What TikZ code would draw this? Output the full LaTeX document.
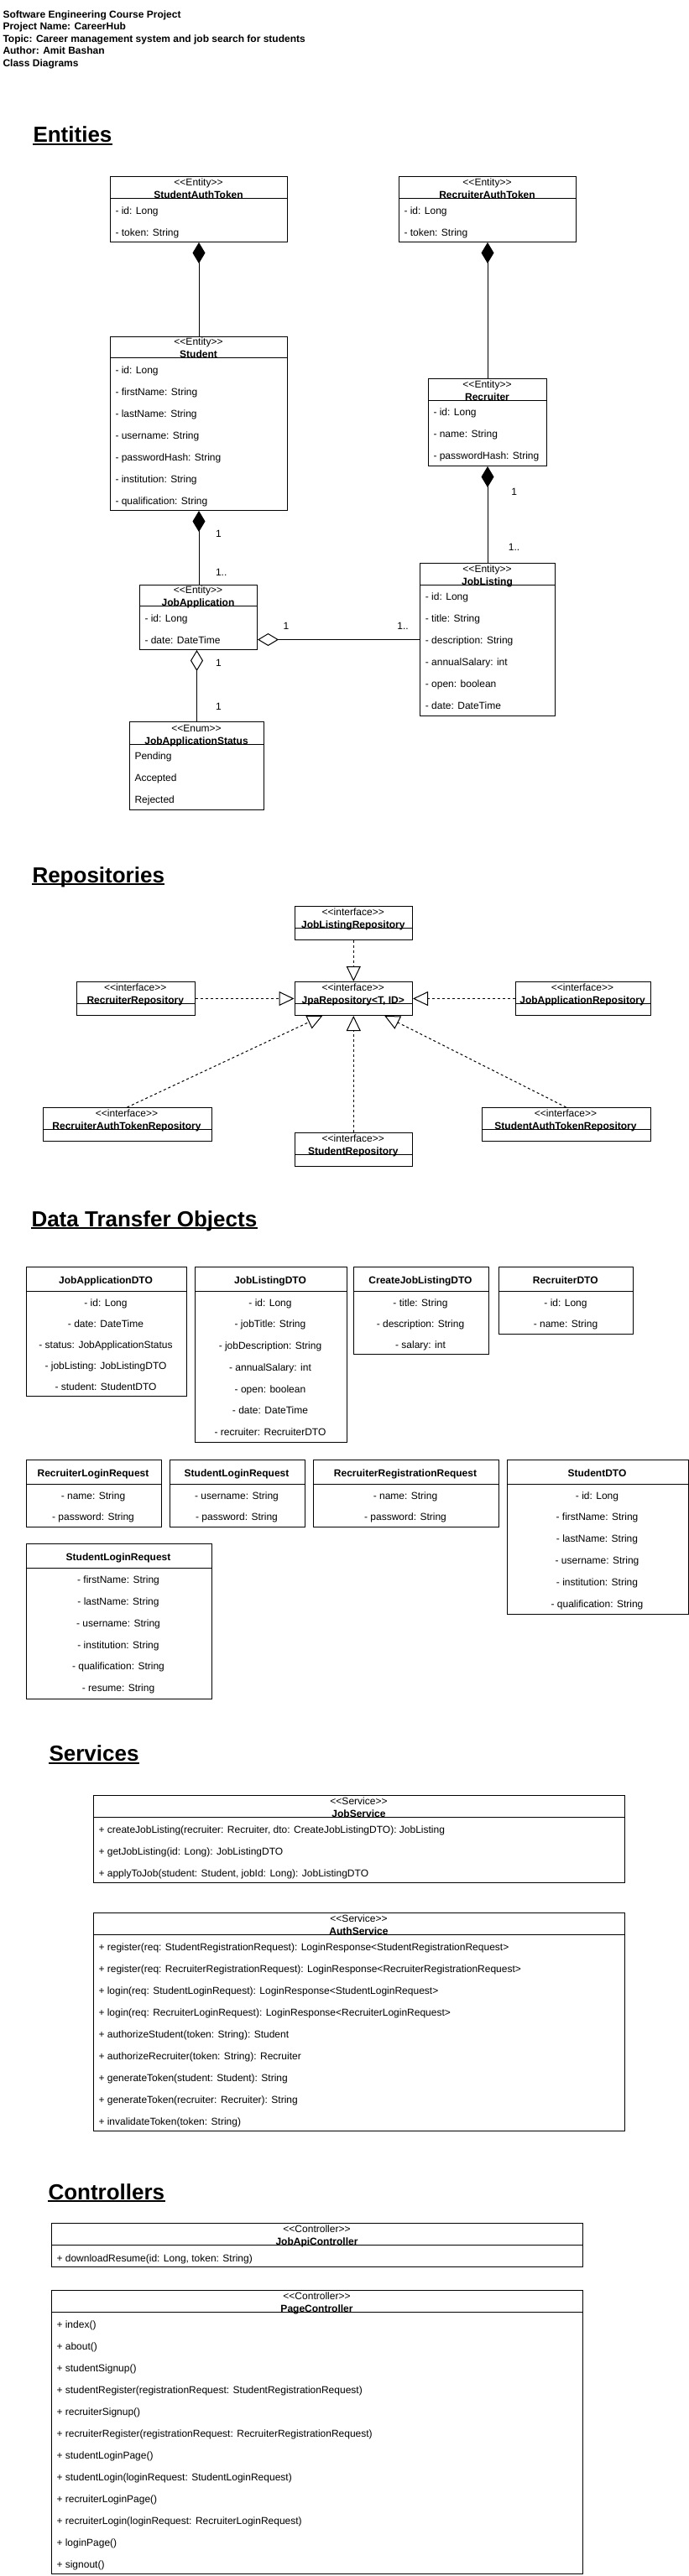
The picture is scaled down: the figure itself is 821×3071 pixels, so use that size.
\documentclass[tikz,border=0pt]{standalone}
\usepackage{fontspec}
\newfontfamily\umlfont{Liberation Sans}
\usetikzlibrary{arrows.meta}

\begin{document}
\begin{tikzpicture}[x=1pt, y=-1pt, line width=1pt,
  classbox/.style={draw, line width=1pt, inner sep=0, anchor=north west},
  txt/.style={inner sep=0, font=\umlfont\fontsize{12}{14}\selectfont},
  boldtxt/.style={inner sep=0, font=\umlfont\bfseries\fontsize{12}{14}\selectfont},
  ttl/.style={inner sep=0, anchor=base west, font=\umlfont\bfseries\fontsize{26}{30}\selectfont},
  comp/.style={{Diamond[length=25pt,width=15pt]}-},
  agg/.style={{Diamond[open,length=25pt,width=15pt]}-},
  realize/.style={dash pattern=on 3pt off 3pt, -{Triangle[open,length=18pt,width=17pt]}}]

\fill[white] (0,0) rectangle (821,3071);
\useasboundingbox (0,0) rectangle (821,3071);

% heading
\foreach \t [count=\i] in {Software Engineering Course Project, Project Name: CareerHub,
  Topic: Career management system and job search for students, Author: Amit Bashan, Class Diagrams}
  \node[boldtxt, anchor=base west] (head\i) at (3, 21.3+14.5*\i-14.5) {\t};

% section titles
\foreach \n/\x/\y/\t in {tEnt/39/169.4/Entities, tRepo/38/1052/Repositories,
  tDto/37/1462/Data Transfer Objects, tSvc/58/2099.4/Services, tCtl/57/2622/Controllers}
{
  \node[ttl] (\n) at (\x,\y) {\t};
  \draw[line width=2pt] ([yshift=-2.3pt]\n.base west) -- ([yshift=-2.3pt]\n.base east);
}

% classes with stereotype
\foreach \n/\l/\t/\r/\b/\h/\s/\c in {
  sat/131/210/342/288/236/Entity/StudentAuthToken,
  rat/475/210/686/288/236/Entity/RecruiterAuthToken,
  stu/131/401/342/608/426/Entity/Student,
  rec/510/451/651/555/477/Entity/Recruiter,
  ja/166/697/306/774/722/Entity/JobApplication,
  jl/500/671/661/853/697/Entity/JobListing,
  jas/154/860/314/965/887/Enum/JobApplicationStatus,
  repoJl/350.5/1080/491/1120/1106.5/interface/JobListingRepository,
  repoJpa/350.5/1170/491/1210/1196.5/interface/{JpaRepository<T, ID>},
  repoRec/91/1170/231.5/1210/1196.5/interface/RecruiterRepository,
  repoJa/613.5/1170/774.5/1210/1196.5/interface/JobApplicationRepository,
  repoRat/50.5/1320/251.5/1360/1346.5/interface/RecruiterAuthTokenRepository,
  repoStu/350.5/1350/491/1390/1376.5/interface/StudentRepository,
  repoSat/573.5/1320/774.5/1360/1346.5/interface/StudentAuthTokenRepository,
  js/111/2140/744/2244/2166/Service/JobService,
  as/111/2280/744/2540/2306.5/Service/AuthService,
  jac/61/2650/694/2702/2676/Controller/JobApiController,
  pc/61/2730/694/3068/2756/Controller/PageController}
{
  \node[classbox, minimum width={\r-\l}, minimum height={\b-\t}] (\n) at (\l,\t) {};
  \draw (\l,\h) -- (\r,\h);
  \node[txt, anchor=base] (\n-st) at ({(\l+\r)/2},\h-14.7) {<<\s>>};
  \node[boldtxt, anchor=base] (\n-nm) at ({(\l+\r)/2},\h) {\c};
}

% data transfer objects
\foreach \n/\l/\t/\r/\b/\h/\c in {
  jadto/30.5/1510/221.5/1664/1539/JobApplicationDTO,
  jldto/231.5/1510/412.5/1719/1539/JobListingDTO,
  cjl/420.5/1510/581.5/1614/1539/CreateJobListingDTO,
  recdto/593.5/1510/754/1590/1539/RecruiterDTO,
  rlr/30.5/1740/191.5/1820/1769/RecruiterLoginRequest,
  slr/201.5/1740/362.5/1820/1769/StudentLoginRequest,
  rrr/372.5/1740/593.5/1820/1769/RecruiterRegistrationRequest,
  stdto/603.5/1740/819.5/1924/1769/StudentDTO,
  srr/30.5/1840/251.5/2025/1869/StudentLoginRequest}
{
  \node[classbox, minimum width={\r-\l}, minimum height={\b-\t}] (\n) at (\l,\t) {};
  \draw (\l,\h) -- (\r,\h);
  \node[boldtxt, anchor=base] (\n-nm) at ({(\l+\r)/2},\t+20.3) {\c};
}

% members
\foreach \n/\x/\y/\d/\a/\L in {
  sat/137/255.1/26/base west/{- id: Long, - token: String},
  rat/481/255.1/26/base west/{- id: Long, - token: String},
  stu/137/445.1/26/base west/{- id: Long, - firstName: String, - lastName: String, - username: String,
    - passwordHash: String, - institution: String, - qualification: String},
  rec/516/495.5/26/base west/{- id: Long, - name: String, - passwordHash: String},
  ja/172/741.1/26/base west/{- id: Long, - date: DateTime},
  jl/506.4/715.5/26/base west/{- id: Long, - title: String, - description: String, - annualSalary: int,
    - open: boolean, - date: DateTime},
  jas/160/905.5/26/base west/{Pending, Accepted, Rejected},
  jadto/126/1557.3/25/base/{- id: Long, - date: DateTime, - status: JobApplicationStatus,
    - jobListing: JobListingDTO, - student: StudentDTO},
  jldto/322/1557.3/25.67/base/{- id: Long, - jobTitle: String, - jobDescription: String,
    - annualSalary: int, - open: boolean, - date: DateTime, - recruiter: RecruiterDTO},
  cjl/501/1557.3/25/base/{- title: String, - description: String, - salary: int},
  recdto/674/1557.3/25/base/{- id: Long, - name: String},
  rlr/111/1787/25.3/base/{- name: String, - password: String},
  slr/282/1787/25.3/base/{- username: String, - password: String},
  rrr/483/1787/25.3/base/{- name: String, - password: String},
  stdto/711.5/1787/25.8/base/{- id: Long, - firstName: String, - lastName: String, - username: String,
    - institution: String, - qualification: String},
  srr/141/1887.3/25.9/base/{- firstName: String, - lastName: String, - username: String,
    - institution: String, - qualification: String, - resume: String},
  js/117/2185.3/26/base west/{{+ createJobListing(recruiter: Recruiter, dto: CreateJobListingDTO): JobListing},
    + getJobListing(id: Long): JobListingDTO, {+ applyToJob(student: Student, jobId: Long): JobListingDTO}},
  as/117/2325.3/26/base west/{+ register(req: StudentRegistrationRequest): LoginResponse<StudentRegistrationRequest>,
    + register(req: RecruiterRegistrationRequest): LoginResponse<RecruiterRegistrationRequest>,
    + login(req: StudentLoginRequest): LoginResponse<StudentLoginRequest>,
    + login(req: RecruiterLoginRequest): LoginResponse<RecruiterLoginRequest>,
    + authorizeStudent(token: String): Student, + authorizeRecruiter(token: String): Recruiter,
    + generateToken(student: Student): String, + generateToken(recruiter: Recruiter): String,
    + invalidateToken(token: String)},
  jac/67/2696/26/base west/{{+ downloadResume(id: Long, token: String)}},
  pc/67/2775/26/base west/{+ index(), + about(), + studentSignup(),
    + studentRegister(registrationRequest: StudentRegistrationRequest), + recruiterSignup(),
    + recruiterRegister(registrationRequest: RecruiterRegistrationRequest), + studentLoginPage(),
    + studentLogin(loginRequest: StudentLoginRequest), + recruiterLoginPage(),
    + recruiterLogin(loginRequest: RecruiterLoginRequest), + loginPage(), + signout()}}
{
  \foreach \t [count=\i] in \L
    \node[txt, anchor=\a] (\n-r\i) at (\x, \y+\d*\i-\d) {\t};
}

% entity relations
\draw[comp] (sat.south) -- (stu.north);
\draw[comp] (rat.south) -- (rec.north);
\draw[comp] (stu.south) -- (stu.south |- ja.north);
\draw[comp] (rec.south) -- (rec.south |- jl.north);
\draw[agg] (ja.east |- jl.west) -- (jl.west);
\draw[agg] (ja.south -| jas.north) -- (jas.north);

\node[txt, anchor=base] (m1) at (260.5,640) {1};
\node[txt, anchor=base] (m2) at (263.7,686) {1..};
\node[txt, anchor=base] (m3) at (612.6,590.3) {1};
\node[txt, anchor=base] (m4) at (612.6,656.3) {1..};
\node[txt, anchor=base] (m5) at (341,750.3) {1};
\node[txt, anchor=base] (m6) at (480,750.3) {1..};
\node[txt, anchor=base] (m7) at (260.5,794.3) {1};
\node[txt, anchor=base] (m8) at (260.5,846) {1};

% repositories
\coordinate (jpaL) at ([xshift=-37pt]repoJpa.south);
\coordinate (jpaR) at ([xshift=37pt]repoJpa.south);
\draw[realize] (repoJl.south) -- (repoJpa.north);
\draw[realize] (repoRec.east) -- (repoJpa.west);
\draw[realize] (repoJa.west) -- (repoJpa.east);
\draw[realize] (repoStu.north) -- (repoJpa.south);
\draw[realize] (repoRat.north) -- (jpaL);
\draw[realize] (repoSat.north) -- (jpaR);

\end{tikzpicture}
\end{document}
